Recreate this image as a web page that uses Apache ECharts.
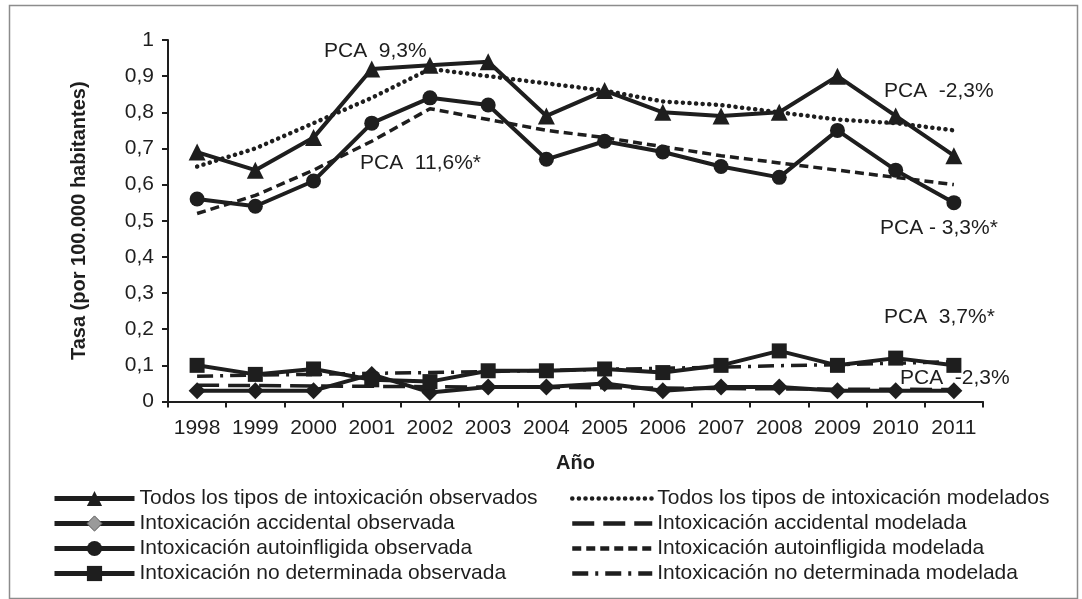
<!DOCTYPE html>
<html>
<head>
<meta charset="utf-8">
<script src="https://cdn.jsdelivr.net/npm/echarts@6/dist/echarts.min.js"></script>
<style>
html,body{margin:0;padding:0;background:#fff;}
#chart{width:1082px;height:599px;}
</style>
</head>
<body>
<div id="chart"></div>
<script>
// ---- data ----
const years = ['1998','1999','2000','2001','2002','2003','2004','2005','2006','2007','2008','2009','2010','2011'];
const yTicks = [0,0.1,0.2,0.3,0.4,0.5,0.6,0.7,0.8,0.9,1];
const todosObs = [0.69,0.64,0.73,0.92,0.93,0.94,0.79,0.86,0.80,0.79,0.80,0.90,0.79,0.68];
const todosMod = [0.65,0.70,0.77,0.84,0.92,0.90,0.88,0.86,0.83,0.82,0.80,0.78,0.77,0.75];
const accObs   = [0.03,0.03,0.03,0.075,0.025,0.04,0.04,0.05,0.03,0.04,0.04,0.03,0.03,0.03];
const accMod   = [0.045,0.044,0.043,0.042,0.041,0.040,0.039,0.038,0.037,0.036,0.035,0.034,0.034,0.033];
const autoObs  = [0.56,0.54,0.61,0.77,0.84,0.82,0.67,0.72,0.69,0.65,0.62,0.75,0.64,0.55];
const autoMod  = [0.52,0.57,0.64,0.72,0.81,0.78,0.75,0.73,0.705,0.68,0.66,0.64,0.62,0.60];
const ndObs    = [0.10,0.075,0.09,0.06,0.055,0.085,0.085,0.09,0.08,0.10,0.14,0.10,0.12,0.10];
const ndMod    = [0.07,0.073,0.075,0.078,0.08,0.083,0.086,0.089,0.092,0.095,0.099,0.102,0.106,0.11];
const names = {
  todosObs: 'Todos los tipos de intoxicación observados',
  todosMod: 'Todos los tipos de intoxicación modelados',
  accObs: 'Intoxicación accidental observada',
  accMod: 'Intoxicación accidental modelada',
  autoObs: 'Intoxicación autoinfligida observada',
  autoMod: 'Intoxicación autoinfligida modelada',
  ndObs: 'Intoxicación no determinada observada',
  ndMod: 'Intoxicación no determinada modelada'
};
const annotations = [
  {text:'PCA  9,3%', x:324, y:51},
  {text:'PCA  11,6%*', x:360, y:163},
  {text:'PCA  -2,3%', x:884, y:91},
  {text:'PCA - 3,3%*', x:880, y:228},
  {text:'PCA  3,7%*', x:884, y:317},
  {text:'PCA  -2,3%', x:900, y:378}
];

const INK = '#1e1e1e';
const FONT = 'Liberation Sans, Arial, sans-serif';

function obs(name, data, symbol, size){
  return {
    name, type:'line', data, symbol, symbolSize:size, showAllSymbol:true,
    lineStyle:{color:INK, width:4},
    itemStyle:{color:INK},
    emphasis:{disabled:true}, z:3
  };
}
function mod(name, data, dash, width, cap){
  return {
    name, type:'line', data, symbol:'none',
    lineStyle:{color:INK, width:width, type:dash, cap:cap||'butt'},
    itemStyle:{color:INK},
    emphasis:{disabled:true}, z:2
  };
}
const hidden = {color:'rgba(0,0,0,0)', borderWidth:0, opacity:0};

const chart = echarts.init(document.getElementById('chart'), null, {renderer:'canvas'});
const legendText = {fontSize:21, color:INK, fontFamily:FONT};
chart.setOption({
  animation:false,
  backgroundColor:'#fff',
  grid:{left:168, right:99, top:40, bottom:197.5, containLabel:false},
  xAxis:{
    type:'category', data:years, boundaryGap:true,
    name:'Año', nameLocation:'middle', nameGap:52,
    nameTextStyle:{fontSize:20, fontWeight:'bold', color:INK, fontFamily:FONT},
    axisLine:{lineStyle:{color:INK, width:2}},
    axisTick:{show:true, length:6, lineStyle:{color:INK, width:2}},
    axisLabel:{fontSize:21, color:INK, fontFamily:FONT, margin:16, interval:0}
  },
  yAxis:{
    type:'value', min:0, max:1, interval:0.1,
    name:'Tasa (por 100.000 habitantes)', nameLocation:'middle', nameGap:79,
    nameTextStyle:{fontSize:20, fontWeight:'bold', color:INK, fontFamily:FONT},
    axisLine:{show:true, lineStyle:{color:INK, width:2}},
    axisTick:{show:true, length:6, lineStyle:{color:INK, width:2}},
    splitLine:{show:false},
    axisLabel:{fontSize:21, color:INK, fontFamily:FONT, margin:14,
      formatter:v => {const t = yTicks.find(k => Math.abs(k-v)<1e-9); return String(t===undefined?v:+t.toFixed(1)).replace('.', ',');}}
  },
  legend:[
    {orient:'vertical', left:47, top:483, itemWidth:80, itemHeight:19, itemGap:4,
     textStyle:legendText, selectedMode:false, lineStyle:{width:5},
     data:[names.todosObs, {name:names.accObs, itemStyle:{color:'#9a9a9a', borderColor:'#555', borderWidth:1}}, names.autoObs, names.ndObs]},
    {orient:'vertical', left:565, top:483, itemWidth:80, itemHeight:19, itemGap:4,
     textStyle:legendText, selectedMode:false, lineStyle:{width:4.5},
     data:[names.todosMod, names.accMod, names.autoMod, names.ndMod].map(n => ({name:n, itemStyle:hidden}))}
  ],
  graphic:[
    {type:'rect', left:7, top:3, shape:{width:1068, height:593}, style:{fill:'none', stroke:'#8c8c8c', lineWidth:1.5}, silent:true, z:-1},
    ...annotations.map(a => ({type:'text', x:a.x, y:a.y, z:10, silent:true,
      style:{text:a.text, fill:INK, font:'21px '+FONT, verticalAlign:'middle', align:'left'}}))
  ],
  series:[
    obs(names.todosObs, todosObs, 'triangle', 17),
    mod(names.todosMod, todosMod, [0.1, 6.5], 4.5, 'round'),
    obs(names.accObs, accObs, 'diamond', 17),
    mod(names.accMod, accMod, [22, 9], 3.5),
    obs(names.autoObs, autoObs, 'circle', 15),
    mod(names.autoMod, autoMod, [9, 5], 3.5),
    obs(names.ndObs, ndObs, 'rect', 15),
    mod(names.ndMod, ndMod, [16, 7, 3, 7], 3.5)
  ]
});
</script>
</body>
</html>
